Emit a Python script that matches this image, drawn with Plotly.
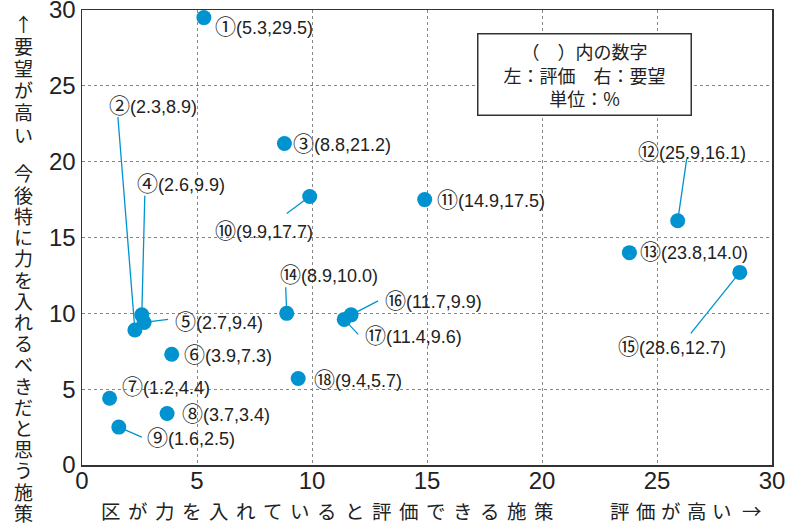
import plotly.graph_objects as go

# ---- data ----
item_marks = ["①", "②", "③", "④", "⑤", "⑥", "⑦", "⑧", "⑨",
              "⑩", "⑪", "⑫", "⑬", "⑭", "⑮", "⑯", "⑰", "⑱"]
evaluation = [5.3, 2.3, 8.8, 2.6, 2.7, 3.9, 1.2, 3.7, 1.6,
              9.9, 14.9, 25.9, 23.8, 8.9, 28.6, 11.7, 11.4, 9.4]
demand = [29.5, 8.9, 21.2, 9.9, 9.4, 7.3, 4.4, 3.4, 2.5,
          17.7, 17.5, 16.1, 14.0, 10.0, 12.7, 9.9, 9.6, 5.7]
tick_vals = [0, 5, 10, 15, 20, 25, 30]

x_title_main = "区が力を入れていると評価できる施策"
x_title_arrow = "評価が高い→"
y_title_top = "↑要望が高い"
y_title_main = "今後特に力を入れるべきだと思う施策"
note_lines = ["（　）内の数字", "左：評価　右：要望", "単位：%"]

# ---- layout helpers (pixel placement of labels) ----
label_offsets = [(9, 7), (-28, -226), (7, -1), (-7, -133), (29, -2), (10, -1),
                 (10, -13), (13, -1), (26, 9), (-97, 32), (10, -2), (-42, -71),
                 (9, -3), (-9, -40), (-124, 73), (32, -16), (19, 15), (14, -1)]
leader_offsets = {1: (-17, -213), 3: (3, -119), 4: (24, -3), 8: (23, 10),
                  9: (-23, 17), 11: (9, -62), 13: (-1, -26), 14: (-49, 61),
                  15: (27, -14), 16: (14, 15)}

W, H = 788, 523
L, R, T, B = 82, 16, 10, 58
PW, PH = W - L - R, H - T - B
BLUE = "#0093cf"
FONT = "Liberation Sans, Noto Sans CJK JP, sans-serif"
JP = "Noto Sans CJK JP, sans-serif"


def px2paper(px, py):
    return (px - L) / PW, (H - B - py) / PH


fig = go.Figure()
fig.add_trace(go.Scatter(
    x=evaluation, y=demand, mode="markers",
    marker=dict(size=15, color=BLUE, line=dict(width=0)),
    hoverinfo="skip", showlegend=False, cliponaxis=False))

annotations = []
shapes = []
for i, (m, xv, yv) in enumerate(zip(item_marks, evaluation, demand)):
    dx, dy = label_offsets[i]
    annotations.append(dict(
        x=xv, y=yv, xref="x", yref="y", showarrow=False,
        text=(f"<span style='font-family:Noto Sans CJK JP;font-size:21px'>{m}</span>"
              f"({xv:.1f},{yv:.1f})"),
        xanchor="left", yanchor="middle",
        xshift=dx, yshift=-dy, font=dict(family=FONT, size=18, color="#222")))
    if i in leader_offsets:
        lx, ly = leader_offsets[i]
        shapes.append(dict(
            type="line", xref="x", yref="y", xsizemode="pixel", ysizemode="pixel",
            xanchor=xv, yanchor=yv, x0=lx, y0=-ly, x1=0, y1=0,
            line=dict(color=BLUE, width=1.3), layer="below"))

# note box
bx, by = px2paper(584.5, 74.5)
annotations.append(dict(
    x=bx, y=by, xref="paper", yref="paper", showarrow=False,
    xanchor="center", yanchor="middle",
    text="<br>".join(note_lines), align="center",
    width=208, height=76, borderpad=2, bordercolor="#333", borderwidth=1.5,
    bgcolor="white", font=dict(family=JP, size=18, color="#222")))


def add_char(ch, px, py, size):
    ax_, ay_ = px2paper(px, py)
    annotations.append(dict(x=ax_, y=ay_, xref="paper", yref="paper", showarrow=False,
                            text=ch, xanchor="center", yanchor="middle", borderpad=0,
                            font=dict(family=JP, size=size, color="#222")))


# vertical y title: stacked upright characters
yx = 23
for k, ch in enumerate(y_title_top):
    add_char(ch, yx, 23 + 22.2 * k, 19)
for k, ch in enumerate(y_title_main):
    add_char(ch, yx, 173 + 21.2 * k, 19)

# horizontal x titles (letter-spaced)
ty = 510
for k, ch in enumerate(x_title_main):
    add_char(ch, 111 + 27.06 * k, ty, 19.5)
for k, ch in enumerate(x_title_arrow):
    add_char(ch, 620 + 25.5 * k + (4 if ch == "→" else 0), ty, 19.5)

axis_common = dict(
    range=[0, 30], tickvals=tick_vals, showgrid=True, gridcolor="#888",
    griddash="dot", gridwidth=1, zeroline=False, showline=True,
    linecolor="#333", linewidth=1.5, mirror=True, ticks="", automargin=False,
    ticklabeloverflow="allow",
    tickfont=dict(family=FONT, size=24, color="#222"), fixedrange=True)

fig.update_layout(
    width=W, height=H, margin=dict(l=L, r=R, t=T, b=B),
    paper_bgcolor="white", plot_bgcolor="white",
    xaxis=dict(axis_common, ticklabelstandoff=-6), yaxis=axis_common,
    annotations=annotations, shapes=shapes, showlegend=False)

fig.write_html("out.html", config={"displayModeBar": False, "staticPlot": True})
with open("out.html", encoding="utf-8") as f:
    html = f.read()
html = html.replace("<head>", "<head><style>html,body{margin:0;padding:0;overflow:hidden}</style>", 1)
with open("out.html", "w", encoding="utf-8") as f:
    f.write(html)
